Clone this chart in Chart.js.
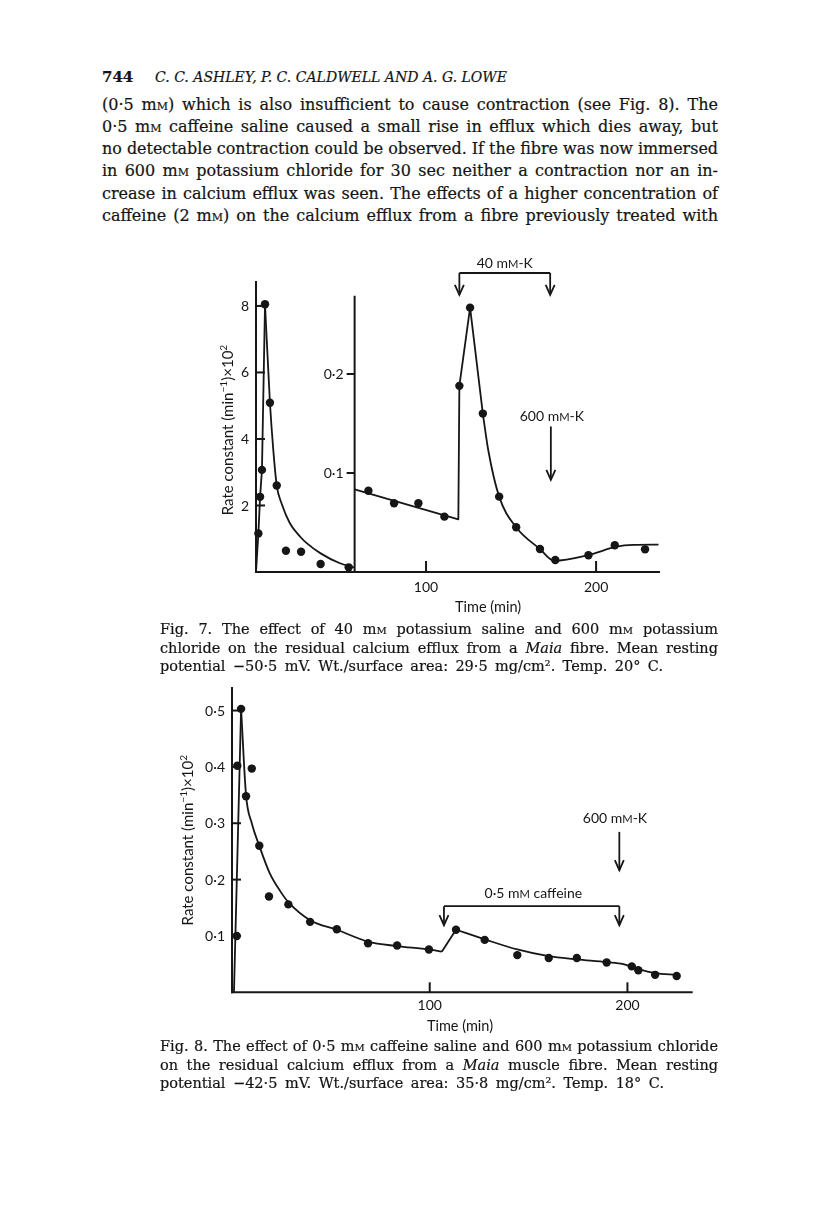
<!DOCTYPE html>
<html>
<head>
<meta charset="utf-8">
<title>Fig. 7 and Fig. 8</title>
<script src="https://cdn.jsdelivr.net/npm/chart.js@4.4.1/dist/chart.umd.min.js"></script>
<style>
    html, body { margin: 0; padding: 0; background: #fff; }
    body { position: relative; width: 816px; height: 1212px; overflow: hidden; color: #141414; font-family: "DejaVu Serif", "Liberation Serif", serif; }
    .ln { position: absolute; white-space: nowrap; line-height: 1; transform-origin: 0 0; -webkit-text-stroke: 0.2px #141414; }
    .head { font-size: 15px; }
    .txt { font-size: 16px; }
    .cap { font-size: 14.5px; }
    .sc { font-variant: small-caps; }
    canvas { position: absolute; }
</style>
</head>
<body>

<div class="ln head" style="left:102px; top:70px; font-weight:bold;">744</div>
<div class="ln head" data-w="352" style="left:155px; top:70px; font-style:italic;">C. C. ASHLEY, P. C. CALDWELL AND A. G. LOWE</div>

<div class="ln txt" data-w="616" style="left:102px; top:96.5px;">(0·5 m<span class="sc">m</span>) which is also insufficient to cause contraction (see Fig. 8). The</div>
<div class="ln txt" data-w="616" style="left:102px; top:118.8px;">0·5 m<span class="sc">m</span> caffeine saline caused a small rise in efflux which dies away, but</div>
<div class="ln txt" data-w="616" style="left:102px; top:141px;">no detectable contraction could be observed. If the fibre was now immersed</div>
<div class="ln txt" data-w="616" style="left:102px; top:163.3px;">in 600 m<span class="sc">m</span> potassium chloride for 30 sec neither a contraction nor an in-</div>
<div class="ln txt" data-w="616" style="left:102px; top:185.5px;">crease in calcium efflux was seen. The effects of a higher concentration of</div>
<div class="ln txt" data-w="616" style="left:102px; top:207.8px;">caffeine (2 m<span class="sc">m</span>) on the calcium efflux from a fibre previously treated with</div>

<canvas id="fig7" width="500" height="385" style="left:180px; top:240px;"></canvas>

<div class="ln cap" data-w="558" style="left:160px; top:622.2px;">Fig. 7. The effect of 40 m<span class="sc">m</span> potassium saline and 600 m<span class="sc">m</span> potassium</div>
<div class="ln cap" data-w="558" style="left:160px; top:640.7px;">chloride on the residual calcium efflux from a <i>Maia</i> fibre. Mean resting</div>
<div class="ln cap" data-w="503" style="left:160px; top:659.2px;">potential −50·5 mV. Wt./surface area: 29·5 mg/cm². Temp. 20° C.</div>

<canvas id="fig8" width="560" height="380" style="left:150px; top:660px;"></canvas>

<div class="ln cap" data-w="558" style="left:160px; top:1039.2px;">Fig. 8. The effect of 0·5 m<span class="sc">m</span> caffeine saline and 600 m<span class="sc">m</span> potassium chloride</div>
<div class="ln cap" data-w="558" style="left:160px; top:1057.7px;">on the residual calcium efflux from a <i>Maia</i> muscle fibre. Mean resting</div>
<div class="ln cap" data-w="504" style="left:160px; top:1076.2px;">potential −42·5 mV. Wt./surface area: 35·8 mg/cm². Temp. 18° C.</div>

<script>
// Fig. 7, left scale (rate constant x 10^2), first hour
const fig7EarlyTimes = [1.4, 2.4, 3.5, 5.3, 8.2, 12.2, 17.6, 26.5, 38, 54.5];
const fig7EarlyRates = [1.16, 2.26, 3.07, 8.05, 5.09, 2.6, 0.64, 0.61, 0.24, 0.14];
const fig7RiseTimes = [0, 1.4, 2.4, 3.5, 5.3];
const fig7RiseRates = [0, 1.16, 2.26, 3.07, 8.05];
const fig7FallTimes = [5.3, 8.2, 10.2, 12.2, 15.1, 20, 26, 30, 38, 49, 58];
const fig7FallRates = [8.05, 5.09, 3.65, 2.6, 2.05, 1.46, 1.06, 0.86, 0.56, 0.27, 0.13];

// Fig. 7, right scale (expanded), after 58 min
const fig7LateTimes = [66.1, 81.2, 95.5, 110.8, 119.6, 125.9, 133.4, 143, 153, 167, 176, 195.5, 211, 228.8];
const fig7LateRates = [0.082, 0.0694, 0.0694, 0.0559, 0.188, 0.267, 0.160, 0.0761, 0.0452, 0.0232, 0.0121, 0.0169, 0.0270, 0.0229];
const fig7StepTimes = [58, 119, 119.6, 125.9, 133.4];
const fig7StepRates = [0.0835, 0.0532, 0.188, 0.267, 0.160];
const fig7TailTimes = [133.4, 136.6, 143, 153, 167, 175.3, 195.5, 212.2, 222, 236.7];
const fig7TailRates = [0.160, 0.123, 0.0761, 0.0452, 0.0232, 0.0114, 0.0172, 0.0256, 0.0273, 0.0276];

const fig7TimeTicks = [100, 200];
const fig7TimeLabels = ['100', '200'];
const fig7LeftTicks = [2, 4, 6, 8];
const fig7LeftLabels = ['2', '4', '6', '8'];
const fig7RightTicks = [0.1, 0.2];
const fig7RightLabels = ['0·1', '0·2'];

// Fig. 8
const fig8Times = [2.4, 2.7, 4.6, 7.1, 10.0, 13.8, 18.7, 28.5, 39.5, 53.0, 68.8, 83.5, 99.6, 113.3, 127.8, 144.3, 160.2, 174.4, 189.5, 202.2, 205.5, 214.0, 224.9];
const fig8Rates = [0.100, 0.402, 0.503, 0.348, 0.397, 0.260, 0.170, 0.156, 0.125, 0.112, 0.087, 0.083, 0.076, 0.111, 0.093, 0.066, 0.061, 0.061, 0.053, 0.046, 0.039, 0.031, 0.029];
const fig8RiseTimes = [1.0, 4.6];
const fig8RiseRates = [0, 0.503];
const fig8FallTimes = [4.6, 7.1, 10.0, 13.8, 19.0, 24.3, 28.5, 39.5, 53.0, 68.8, 83.5, 99.6, 106.1];
const fig8FallRates = [0.503, 0.35, 0.30, 0.26, 0.212, 0.180, 0.160, 0.128, 0.111, 0.090, 0.082, 0.076, 0.072];
const fig8BumpTimes = [106.1, 113.3];
const fig8BumpRates = [0.072, 0.111];
const fig8TailTimes = [113.3, 127.8, 144.3, 160.2, 174.4, 189.5, 197.9, 205.5, 214.0, 224.9];
const fig8TailRates = [0.111, 0.094, 0.076, 0.064, 0.0585, 0.0535, 0.050, 0.041, 0.034, 0.031];

const fig8TimeTicks = [100, 200];
const fig8TimeLabels = ['100', '200'];
const fig8RateTicks = [0.1, 0.2, 0.3, 0.4, 0.5];
const fig8RateLabels = ['0·1', '0·2', '0·3', '0·4', '0·5'];

// justify the page text lines to the measured widths of the scan
document.querySelectorAll('[data-w]').forEach((el) => {
    const target = Number(el.dataset.w);
    const natural = el.getBoundingClientRect().width;
    const gaps = (el.textContent.match(/ /g) || []).length;

    if (natural > target) {
        el.style.transform = `scaleX(${target / natural})`;
    } else if (gaps > 0) {
        el.style.wordSpacing = `${(target - natural) / gaps}px`;
    }
});

const ink = '#161616';
const face = 'Lato, "Open Sans", sans-serif';

const pts = (xs, ys) => xs.map((x, i) => ({ x, y: ys[i] }));

const dots = (xs, ys, yAxisID = 'y') => ({
    data: pts(xs, ys),
    yAxisID,
    showLine: false,
    pointRadius: 4.2,
    pointBackgroundColor: ink,
    pointBorderWidth: 0,
    clip: false,
});

const curve = (xs, ys, smooth, yAxisID = 'y') => ({
    data: pts(xs, ys),
    yAxisID,
    showLine: true,
    borderColor: ink,
    borderWidth: 1.8,
    borderJoinStyle: 'round',
    pointRadius: 0,
    cubicInterpolationMode: smooth ? 'monotone' : 'default',
    tension: 0,
    clip: false,
});

const seg = (ctx, x1, y1, x2, y2) => {
    ctx.beginPath();
    ctx.moveTo(x1, y1);
    ctx.lineTo(x2, y2);
    ctx.stroke();
};

const arrowDown = (ctx, x, yFrom, yTo) => {
    seg(ctx, x, yFrom, x, yTo);
    ctx.beginPath();
    ctx.moveTo(x - 4.5, yTo - 10);
    ctx.lineTo(x, yTo);
    ctx.lineTo(x + 4.5, yTo - 10);
    ctx.stroke();
};

// parts: [text, kind] with kind '' | 'sc' (small capital) | 'sup'
const drawRich = (ctx, parts, x, y, size, align = 'center') => {
    const pieces = parts.map(([s, kind = '']) => {
        const fs = kind === 'sc' ? size * 0.8 : kind === 'sup' ? size * 0.68 : size;
        ctx.font = `${fs}px ${face}`;
        return { s, fs, w: ctx.measureText(s).width, rise: kind === 'sup' ? size * 0.4 : 0 };
    });
    const total = pieces.reduce((sum, p) => sum + p.w, 0);
    let cx = align === 'center' ? x - total / 2 : align === 'right' ? x - total : x;
    const base = y + size * 0.36;

    ctx.textAlign = 'left';
    ctx.textBaseline = 'alphabetic';
    pieces.forEach((p) => {
        ctx.font = `${p.fs}px ${face}`;
        ctx.fillText(p.s, cx, base - p.rise);
        cx += p.w;
    });
};

const yTitle = [['Rate constant (min'], ['−1', 'sup'], [')×10'], ['2', 'sup']];

const drawYTitle = (ctx, x, y) => {
    ctx.save();
    ctx.translate(x, y);
    ctx.rotate(-Math.PI / 2);
    drawRich(ctx, yTitle, 0, 0, 15);
    ctx.restore();
};

const baseOptions = (padding, scales) => ({
    responsive: false,
    animation: false,
    devicePixelRatio: 1,
    events: [],
    layout: { autoPadding: false, padding },
    scales,
    plugins: {
        legend: { display: false },
        tooltip: { enabled: false },
    },
});

const drawFig7 = (chart) => {
    const { ctx, scales: { x, y, yR } } = chart;
    const base = y.getPixelForValue(0);
    const x0 = x.getPixelForValue(0);
    const xBreak = x.getPixelForValue(58);

    ctx.save();
    ctx.strokeStyle = ink;
    ctx.fillStyle = ink;
    ctx.lineWidth = 2;
    ctx.lineCap = 'square';

    seg(ctx, x0, base, x.getPixelForValue(x.max), base);
    seg(ctx, x0, base, x0, y.getPixelForValue(y.max));
    seg(ctx, xBreak, base, xBreak, yR.getPixelForValue(0.278));

    ctx.lineCap = 'butt';
    fig7LeftTicks.forEach((v, i) => {
        const py = y.getPixelForValue(v);
        seg(ctx, x0, py, x0 + 9, py);
        drawRich(ctx, [[fig7LeftLabels[i]]], x0 - 7, py, 14, 'right');
    });
    fig7RightTicks.forEach((v, i) => {
        const py = yR.getPixelForValue(v);
        seg(ctx, xBreak - 8, py, xBreak, py);
        drawRich(ctx, [[fig7RightLabels[i]]], xBreak - 11, py, 14, 'right');
    });
    fig7TimeTicks.forEach((t, i) => {
        const px = x.getPixelForValue(t);
        seg(ctx, px, base, px, base - 11);
        drawRich(ctx, [[fig7TimeLabels[i]]], px, base + 15, 14);
    });
    drawRich(ctx, [['Time (min)']], x.getPixelForValue(136.5), base + 35, 14.5);
    drawYTitle(ctx, x0 - 28, y.getPixelForValue(4.27));

    // 40 mM-K bracket and 600 mM-K arrow
    ctx.lineWidth = 1.8;
    const kFrom = x.getPixelForValue(119.6);
    const kTo = x.getPixelForValue(173);
    const kLevel = yR.getPixelForValue(0.302);
    const kTip = yR.getPixelForValue(0.28);
    seg(ctx, kFrom, kLevel, kTo, kLevel);
    arrowDown(ctx, kFrom, kLevel, kTip);
    arrowDown(ctx, kTo, kLevel, kTip);
    drawRich(ctx, [['40 m'], ['M', 'sc'], ['-K']], (kFrom + kTo) / 2, yR.getPixelForValue(0.312), 14);

    drawRich(ctx, [['600 m'], ['M', 'sc'], ['-K']], x.getPixelForValue(174), yR.getPixelForValue(0.158), 14);
    arrowDown(ctx, x.getPixelForValue(173.4), yR.getPixelForValue(0.147), yR.getPixelForValue(0.093));
    ctx.restore();
};

const drawFig8 = (chart) => {
    const { ctx, scales: { x, y } } = chart;
    const base = y.getPixelForValue(0);
    const x0 = x.getPixelForValue(0);

    ctx.save();
    ctx.strokeStyle = ink;
    ctx.fillStyle = ink;
    ctx.lineWidth = 2;
    ctx.lineCap = 'square';

    seg(ctx, x0, base, x.getPixelForValue(x.max), base);
    seg(ctx, x0, base, x0, y.getPixelForValue(y.max));

    ctx.lineCap = 'butt';
    fig8RateTicks.forEach((v, i) => {
        const py = y.getPixelForValue(v);
        seg(ctx, x0, py, x0 + 9, py);
        drawRich(ctx, [[fig8RateLabels[i]]], x0 - 7, py, 14, 'right');
    });
    fig8TimeTicks.forEach((t, i) => {
        const px = x.getPixelForValue(t);
        seg(ctx, px, base, px, base - 10);
        drawRich(ctx, [[fig8TimeLabels[i]]], px, base + 13, 14);
    });
    drawRich(ctx, [['Time (min)']], x.getPixelForValue(115.3), base + 33, 14.5);
    drawYTitle(ctx, x0 - 44, y.getPixelForValue(0.27));

    // 600 mM-K arrow and 0.5 mM caffeine bracket
    ctx.lineWidth = 1.8;
    const kx = x.getPixelForValue(195.9);
    drawRich(ctx, [['600 m'], ['M', 'sc'], ['-K']], x.getPixelForValue(193.7), y.getPixelForValue(0.3085), 14);
    arrowDown(ctx, kx, y.getPixelForValue(0.2847), y.getPixelForValue(0.2167));

    const cFrom = x.getPixelForValue(107.2);
    const cLevel = y.getPixelForValue(0.1528);
    const cTip = y.getPixelForValue(0.119);
    seg(ctx, cFrom, cLevel, kx, cLevel);
    arrowDown(ctx, cFrom, cLevel, cTip);
    arrowDown(ctx, kx, cLevel, cTip);
    drawRich(ctx, [['0·5 m'], ['M', 'sc'], [' caffeine']], x.getPixelForValue(152.4), y.getPixelForValue(0.176), 14);
    ctx.restore();
};

new Chart(document.getElementById('fig7'), {
    type: 'scatter',
    data: {
        datasets: [
            curve(fig7RiseTimes, fig7RiseRates, false),
            curve(fig7FallTimes, fig7FallRates, true),
            dots(fig7EarlyTimes, fig7EarlyRates),
            curve(fig7StepTimes, fig7StepRates, false, 'yR'),
            curve(fig7TailTimes, fig7TailRates, true, 'yR'),
            dots(fig7LateTimes, fig7LateRates, 'yR'),
        ],
    },
    options: baseOptions({ left: 76, right: 21, top: 42, bottom: 53 }, {
        x: { type: 'linear', display: false, min: 0, max: 237 },
        y: { type: 'linear', display: false, min: 0, max: 8.72 },
        yR: { type: 'linear', display: false, min: 0, max: 0.2929 },
    }),
    plugins: [{ id: 'fig7Axes', afterDraw: drawFig7 }],
});

new Chart(document.getElementById('fig8'), {
    type: 'scatter',
    data: {
        datasets: [
            curve(fig8RiseTimes, fig8RiseRates, false),
            curve(fig8FallTimes, fig8FallRates, true),
            curve(fig8BumpTimes, fig8BumpRates, false),
            curve(fig8TailTimes, fig8TailRates, true),
            dots(fig8Times, fig8Rates),
        ],
    },
    options: baseOptions({ left: 82, right: 18.3, top: 28, bottom: 47.7 }, {
        x: { type: 'linear', display: false, min: 0, max: 232.5 },
        y: { type: 'linear', display: false, min: 0, max: 0.54 },
    }),
    plugins: [{ id: 'fig8Axes', afterDraw: drawFig8 }],
});
</script>
</body>
</html>
